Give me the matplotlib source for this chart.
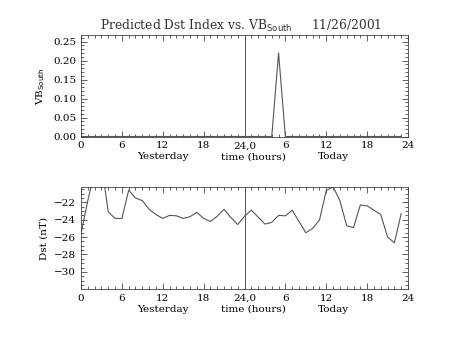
import numpy as np
import matplotlib.pyplot as plt
from matplotlib.ticker import MultipleLocator

# Data (hourly, 0..47 = yesterday 0h .. today 23h)
hours = np.arange(48)
vb_south = [0.0] * 48
vb_south[29] = 0.22

dst = [-25.6, -21.8, -18.5, -17.5, -23.1, -23.85, -23.85, -20.6, -21.5, -21.8,
       -22.8, -23.4, -23.85, -23.5, -23.55, -23.85, -23.65, -23.15, -23.85, -24.2,
       -23.6, -22.8, -23.75, -24.55, -23.6, -22.9, -23.7, -24.5, -24.3, -23.5,
       -23.55, -22.9, -24.2, -25.5, -25.0, -24.05, -20.65, -20.2, -21.8, -24.7,
       -24.9, -22.3, -22.4, -22.9, -23.4, -26.0, -26.65, -23.3]

tick_pos = [0, 6, 12, 18, 24, 30, 36, 42, 48]
tick_labels = ["0", "6", "12", "18", "24,0", "6", "12", "18", "24"]
date_str = "11/26/2001"

plt.rcParams['font.family'] = ['DejaVu Serif']
fs = 7.5

fig = plt.figure(figsize=(4.54, 3.41), dpi=100)
ax1 = fig.add_axes([0.1784, 0.5997, 0.7203, 0.2963])
ax2 = fig.add_axes([0.1784, 0.1525, 0.7203, 0.2982])


def style(ax):
    ax.set_xlim(0, 48)
    ax.set_xticks(tick_pos)
    ax.set_xticklabels(tick_labels)
    ax.xaxis.set_minor_locator(MultipleLocator(1))
    ax.tick_params(which='both', direction='in', top=True, right=True,
                   labelsize=fs, color='#444444', width=0.6)
    ax.tick_params(which='major', length=4)
    ax.tick_params(which='minor', length=2)
    for s in ax.spines.values():
        s.set_linewidth(0.6)
        s.set_color('#444444')
    ax.axvline(24, color='#555555', lw=0.7)
    ax.text(12, -0.2, "Yesterday", transform=ax.get_xaxis_transform(),
            ha='center', va='center', fontsize=fs)
    ax.text(25.3, -0.2, "time (hours)", transform=ax.get_xaxis_transform(),
            ha='center', va='center', fontsize=fs)
    ax.text(37.1, -0.2, "Today", transform=ax.get_xaxis_transform(),
            ha='center', va='center', fontsize=fs)


# top panel
ax1.plot(hours, vb_south, color='#555555', lw=0.8)
style(ax1)
ax1.set_ylim(0, 0.266)
ax1.yaxis.set_major_locator(MultipleLocator(0.05))
ax1.yaxis.set_minor_locator(MultipleLocator(0.01))
ax1.yaxis.set_major_formatter(plt.FormatStrFormatter('%.2f'))
ax1.set_ylabel("VB$_{\\mathrm{South}}$", fontsize=fs, labelpad=4)
fig.text(0.53, 0.925, "Predicted Dst Index vs. VB$_{\\mathrm{South}}$     " + date_str,
         ha='center', va='center', fontsize=8.8, color='#333333')

# bottom panel
ax2.plot(hours, dst, color='#555555', lw=0.8)
style(ax2)
ax2.set_ylim(-31.97, -20.27)
ax2.yaxis.set_major_locator(MultipleLocator(2))
ax2.yaxis.set_minor_locator(MultipleLocator(0.5))
ax2.set_ylabel("Dst (nT)", fontsize=fs, labelpad=4)

fig.savefig("out.png", dpi=100)
